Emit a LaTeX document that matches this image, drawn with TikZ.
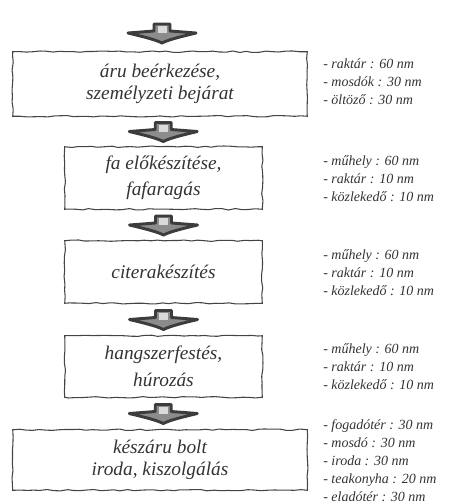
\documentclass[tikz,border=0pt]{standalone}
\usepackage{fontspec}
\setmainfont{Liberation Serif}
\usetikzlibrary{decorations.pathmorphing,calc}
\definecolor{ink}{HTML}{333333}
\definecolor{edge}{HTML}{444444}
\definecolor{arrowdark}{HTML}{3C3C3C}
\definecolor{arrowmid}{HTML}{8C8C8C}
\definecolor{arrowlight}{HTML}{DADADA}
\begin{document}
\pgfmathsetseed{7}
\begin{tikzpicture}[x=0.75pt,y=-0.75pt,
  stagebox/.style={text=ink, align=center, inner sep=0pt,
    font=\itshape\fontsize{14.5}{16.5}\selectfont},
  widebox/.style={stagebox, minimum width=220.5pt},
  narrowbox/.style={stagebox, minimum width=147.75pt},
  wavyedge/.style={draw=edge, line width=0.8pt,
    decorate, decoration={random steps, segment length=5pt, amplitude=0.55pt}},
  arealist/.style={anchor=west, align=left, text=ink, inner sep=0pt,
    font=\itshape\fontsize{10.5}{13.5}\selectfont},
  flowarrow/.pic={
    \draw[arrowdark, line width=2.2pt, line join=round, fill=arrowmid]
      (-8,-9) -- (8,-9) -- (8,-2) -- (34,0)
      .. controls (22,3) and (8,6) .. (0,10)
      .. controls (-8,6) and (-22,3) .. (-34,0)
      -- (-8,-2) -- cycle;
    \fill[arrowlight] (-4.5,-7) rectangle (4.5,0);
  }]
\useasboundingbox (0,0) rectangle (464,503);

\node[widebox, minimum height=48pt] (b1) at (160,84) {áru beérkezése,\\személyzeti bejárat};
\node[narrowbox, minimum height=46.5pt, font=\itshape\fontsize{14.5}{19.5}\selectfont] (b2) at (163.5,178) {fa előkészítése,\\fafaragás};
\node[narrowbox, minimum height=46.5pt] (b3) at (163.5,272) {citerakészítés};
\node[narrowbox, minimum height=45.75pt, font=\itshape\fontsize{14.5}{20}\selectfont] (b4) at (163.5,366.5) {hangszerfestés,\\húrozás};
\node[widebox, minimum height=45pt] (b5) at (160,460) {készáru bolt\\iroda, kiszolgálás};

\foreach \b in {b1,b2,b3,b4,b5}
  \draw[wavyedge] (\b.north west) -- (\b.north east) -- (\b.south east) -- (\b.south west) -- cycle;

\coordinate (top) at (162,33);
\pic (a1) at (top) {flowarrow};
\pic (a2) at ($(b1.south)!0.5!(b2.north)+(1.5,0)$) {flowarrow};
\pic (a3) at ($(b2.south)!0.5!(b3.north)$) {flowarrow};
\pic (a4) at ($(b3.south)!0.5!(b4.north)$) {flowarrow};
\pic (a5) at ($(b4.south)!0.5!(b5.north)+(1.5,0)$) {flowarrow};

\node[arealist] (l1) at (323,82) {- raktár : 60 nm\\- mosdók : 30 nm\\- öltöző : 30 nm};
\node[arealist] (l2) at (323,179) {- műhely : 60 nm\\- raktár : 10 nm\\- közlekedő : 10 nm};
\node[arealist] (l3) at (323,273) {- műhely : 60 nm\\- raktár : 10 nm\\- közlekedő : 10 nm};
\node[arealist] (l4) at (323,367) {- műhely : 60 nm\\- raktár : 10 nm\\- közlekedő : 10 nm};
\node[arealist] (l5) at (323,460.5) {- fogadótér : 30 nm\\- mosdó : 30 nm\\- iroda : 30 nm\\- teakonyha : 20 nm\\- eladótér : 30 nm};
\end{tikzpicture}
\end{document}
